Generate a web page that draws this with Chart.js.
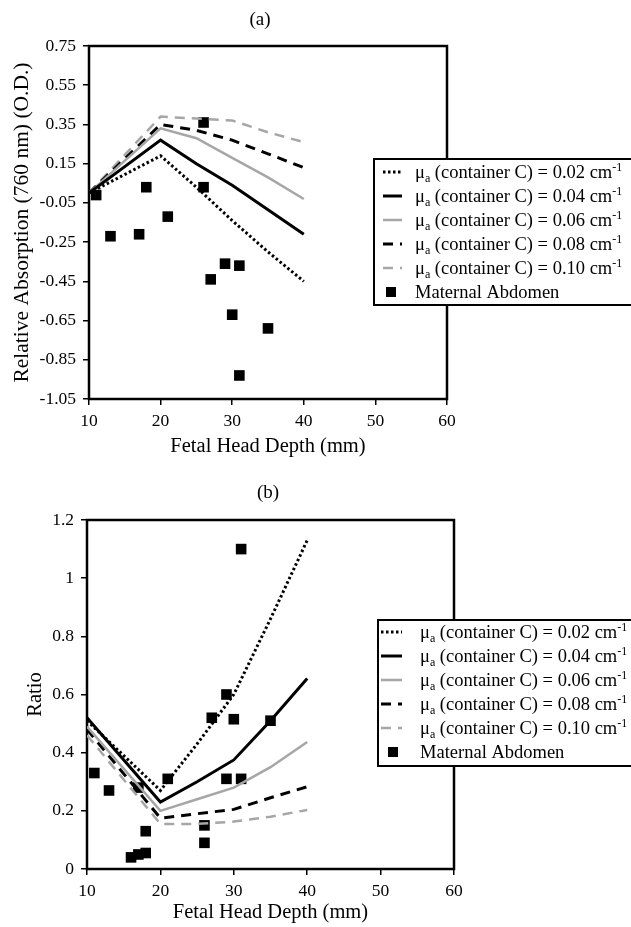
<!DOCTYPE html>
<html>
<head>
<meta charset="utf-8">
<script src="https://cdn.jsdelivr.net/npm/chart.js@4.4.1/dist/chart.umd.min.js"></script>
<style>
  html, body { margin: 0; padding: 0; background: #fff; }
  .panel { position: absolute; left: 0; width: 631px; }
  #pa { top: 0; height: 463px; }
  #pb { top: 463px; height: 464px; }
</style>
</head>
<body>
<div class="panel" id="pa"><canvas id="chartA"></canvas></div>
<div class="panel" id="pb"><canvas id="chartB"></canvas></div>
<script>
// fetal head depth (mm) where the model curves were computed
const depths = [10, 20, 25, 30, 35, 40];
const muValues = ['0.02', '0.04', '0.06', '0.08', '0.10'];

// (a) relative absorption at 760 nm (O.D.)
const absMu002 = [0.00, 0.19, 0.03, -0.14, -0.30, -0.45];
const absMu004 = [0.00, 0.27, 0.15, 0.04, -0.085, -0.21];
const absMu006 = [0.00, 0.33, 0.28, 0.18, 0.08, -0.03];
const absMu008 = [0.00, 0.35, 0.32, 0.27, 0.20, 0.13];
const absMu010 = [0.00, 0.39, 0.38, 0.37, 0.31, 0.26];
const maternalDepthA = [11, 13, 17, 18, 21, 26, 26, 27, 29, 30, 31, 31, 35];
const maternalAbs = [-0.01, -0.22, -0.21, 0.03, -0.12, 0.36, 0.03, -0.44, -0.36, -0.62, -0.37, -0.93, -0.69];
const yTicksA = [-1.05, -0.85, -0.65, -0.45, -0.25, -0.05, 0.15, 0.35, 0.55, 0.75];

// (b) ratio
const ratioMu002 = [0.51, 0.27, 0.43, 0.60, 0.86, 1.13];
const ratioMu004 = [0.52, 0.23, 0.30, 0.375, 0.51, 0.655];
const ratioMu006 = [0.49, 0.20, 0.24, 0.28, 0.35, 0.437];
const ratioMu008 = [0.48, 0.175, 0.19, 0.205, 0.245, 0.283];
const ratioMu010 = [0.46, 0.155, 0.155, 0.163, 0.18, 0.203];
const maternalDepthB = [11, 13, 16, 17, 17, 18, 18, 21, 26, 26, 27, 29, 29, 30, 31, 31, 35];
const maternalRatio = [0.33, 0.27, 0.04, 0.05, 0.28, 0.055, 0.13, 0.31, 0.15, 0.09, 0.52, 0.60, 0.31, 0.515, 0.31, 1.10, 0.51];
const yTicksB = [0, 0.2, 0.4, 0.6, 0.8, 1, 1.2];
const yTickLabelsB = ['0', '0.2', '0.4', '0.6', '0.8', '1', '1.2'];

const xTicks = [10, 20, 30, 40, 50, 60];

const SERIF = '"Liberation Serif", "Times New Roman", serif';
const GRAY = '#a6a6a6';
const lineStyles = [
  { color: '#000', width: 3, dash: [2.5, 2.5] },
  { color: '#000', width: 3, dash: [] },
  { color: GRAY, width: 2.5, dash: [] },
  { color: '#000', width: 3, dash: [10, 7] },
  { color: GRAY, width: 2.5, dash: [10, 7] }
];

function pts(xs, ys) {
  return xs.map((x, i) => ({ x: x, y: ys[i] }));
}

function buildDatasets(curves, mDepth, mVals) {
  const sets = curves.map((c, i) => ({
    label: 'μa (container C) = ' + muValues[i] + ' cm-1',
    mu: muValues[i],
    data: pts(depths, c),
    showLine: true,
    borderColor: lineStyles[i].color,
    borderWidth: lineStyles[i].width,
    borderDash: lineStyles[i].dash,
    pointRadius: 0,
    fill: false,
    tension: 0
  }));
  sets.push({
    label: 'Maternal Abdomen',
    data: pts(mDepth, mVals),
    showLine: false,
    pointStyle: 'rect',
    pointRadius: 7.5,
    backgroundColor: '#000',
    borderWidth: 0
  });
  return sets;
}

function drawMuText(ctx, x, base, mu) {
  ctx.textAlign = 'left';
  ctx.textBaseline = 'alphabetic';
  ctx.font = '18.5px ' + SERIF;
  ctx.fillText('μ', x, base);
  x += ctx.measureText('μ').width;
  ctx.font = '12px ' + SERIF;
  ctx.fillText('a', x, base + 4);
  x += ctx.measureText('a').width;
  ctx.font = '18.5px ' + SERIF;
  const mid = ' (container C) = ' + mu + ' cm';
  ctx.fillText(mid, x, base);
  x += ctx.measureText(mid).width;
  ctx.font = '12px ' + SERIF;
  ctx.fillText('-1', x, base - 7);
}

// plot frame, panel label and the boxed legend
const framePlugin = {
  id: 'frame',
  beforeDatasetsDraw(chart) {
    const { ctx, chartArea: a } = chart;
    ctx.save();
    ctx.strokeStyle = '#000';
    ctx.lineWidth = 2.5;
    ctx.strokeRect(a.left, a.top, a.right - a.left, a.bottom - a.top);
    ctx.restore();
  },
  afterDraw(chart, args, opts) {
    const ctx = chart.ctx;
    ctx.save();
    ctx.fillStyle = '#000';
    ctx.font = '19px ' + SERIF;
    ctx.textAlign = 'center';
    ctx.textBaseline = 'middle';
    ctx.fillText(opts.panel, opts.panelX, opts.panelY);

    const L = opts.legend;
    ctx.fillStyle = '#fff';
    ctx.fillRect(L.x, L.y, L.w, L.h);
    ctx.strokeStyle = '#000';
    ctx.lineWidth = 2;
    ctx.strokeRect(L.x, L.y, L.w, L.h);

    chart.data.datasets.forEach((ds, i) => {
      const y = L.row0 + i * L.gap;
      if (ds.showLine) {
        ctx.strokeStyle = ds.borderColor;
        ctx.lineWidth = ds.borderWidth;
        ctx.setLineDash(ds.borderDash);
        ctx.beginPath();
        ctx.moveTo(L.lineX0, y);
        ctx.lineTo(L.lineX1, y);
        ctx.stroke();
        ctx.setLineDash([]);
        ctx.fillStyle = '#000';
        drawMuText(ctx, L.textX, y + 6, ds.mu);
      } else {
        ctx.fillStyle = '#000';
        ctx.fillRect(L.sqX - 5, y - 5, 10, 10);
        ctx.font = '18.5px ' + SERIF;
        ctx.textAlign = 'left';
        ctx.textBaseline = 'alphabetic';
        ctx.fillText(ds.label, L.textX, y + 6);
      }
    });
    ctx.restore();
  }
};

function makeChart(id, cfg) {
  return new Chart(document.getElementById(id), {
    type: 'scatter',
    data: { datasets: cfg.datasets },
    options: {
      responsive: true,
      maintainAspectRatio: false,
      animation: false,
      layout: { padding: { top: cfg.top, right: cfg.right, left: 0, bottom: 0 } },
      plugins: {
        legend: { display: false },
        tooltip: { enabled: false },
        frame: cfg.frame
      },
      scales: {
        x: {
          type: 'linear',
          min: 10,
          max: 60,
          afterBuildTicks: ax => { ax.ticks = xTicks.map(v => ({ value: v })); },
          ticks: { color: '#000', font: { family: SERIF, size: 17.5 }, padding: 6 },
          grid: { drawOnChartArea: false, color: '#000', lineWidth: 1.5, tickLength: 6 },
          border: { display: false },
          title: {
            display: true, text: 'Fetal Head Depth (mm)', color: '#000',
            font: { family: SERIF, size: 20.5 }, padding: { top: 0, bottom: cfg.xTitlePad }
          },
          afterFit: s => { s.height = cfg.xHeight; }
        },
        y: {
          type: 'linear',
          min: cfg.yMin,
          max: cfg.yMax,
          afterBuildTicks: ax => { ax.ticks = cfg.yTicks.map(v => ({ value: v })); },
          ticks: { color: '#000', font: { family: SERIF, size: 17.5 }, padding: 7, callback: cfg.yLabel },
          grid: { drawOnChartArea: false, color: '#000', lineWidth: 1.5, tickLength: 6 },
          border: { display: false },
          title: {
            display: true, text: cfg.yTitle, color: '#000',
            font: { family: SERIF, size: cfg.yTitleSize }, padding: { top: cfg.yTitlePad, bottom: 0 }
          },
          afterFit: s => { s.width = cfg.yWidth; }
        }
      }
    },
    plugins: [framePlugin]
  });
}

makeChart('chartA', {
  datasets: buildDatasets([absMu002, absMu004, absMu006, absMu008, absMu010], maternalDepthA, maternalAbs),
  top: 46, right: 184, xHeight: 64, yWidth: 89,
  yMin: -1.05, yMax: 0.75, yTicks: yTicksA,
  yLabel: v => v.toFixed(2),
  yTitle: 'Relative Absorption (760 nm) (O.D.)', yTitleSize: 21.5,
  xTitlePad: 4, yTitlePad: 9,
  frame: {
    panel: '(a)', panelX: 260, panelY: 20,
    legend: { x: 374, y: 159, w: 270, h: 146, row0: 172, gap: 24, lineX0: 383, lineX1: 402, textX: 415, sqX: 391 }
  }
});

makeChart('chartB', {
  datasets: buildDatasets([ratioMu002, ratioMu004, ratioMu006, ratioMu008, ratioMu010], maternalDepthB, maternalRatio),
  top: 57, right: 177, xHeight: 58, yWidth: 87,
  yMin: 0, yMax: 1.2, yTicks: yTicksB,
  yLabel: (v, i) => yTickLabelsB[i],
  yTitle: 'Ratio', yTitleSize: 20.5,
  xTitlePad: 2, yTitlePad: 23,
  frame: {
    panel: '(b)', panelX: 268, panelY: 30,
    legend: { x: 378, y: 157, w: 270, h: 146, row0: 169, gap: 24, lineX0: 381, lineX1: 402, textX: 420, sqX: 393 }
  }
});
</script>
</body>
</html>
